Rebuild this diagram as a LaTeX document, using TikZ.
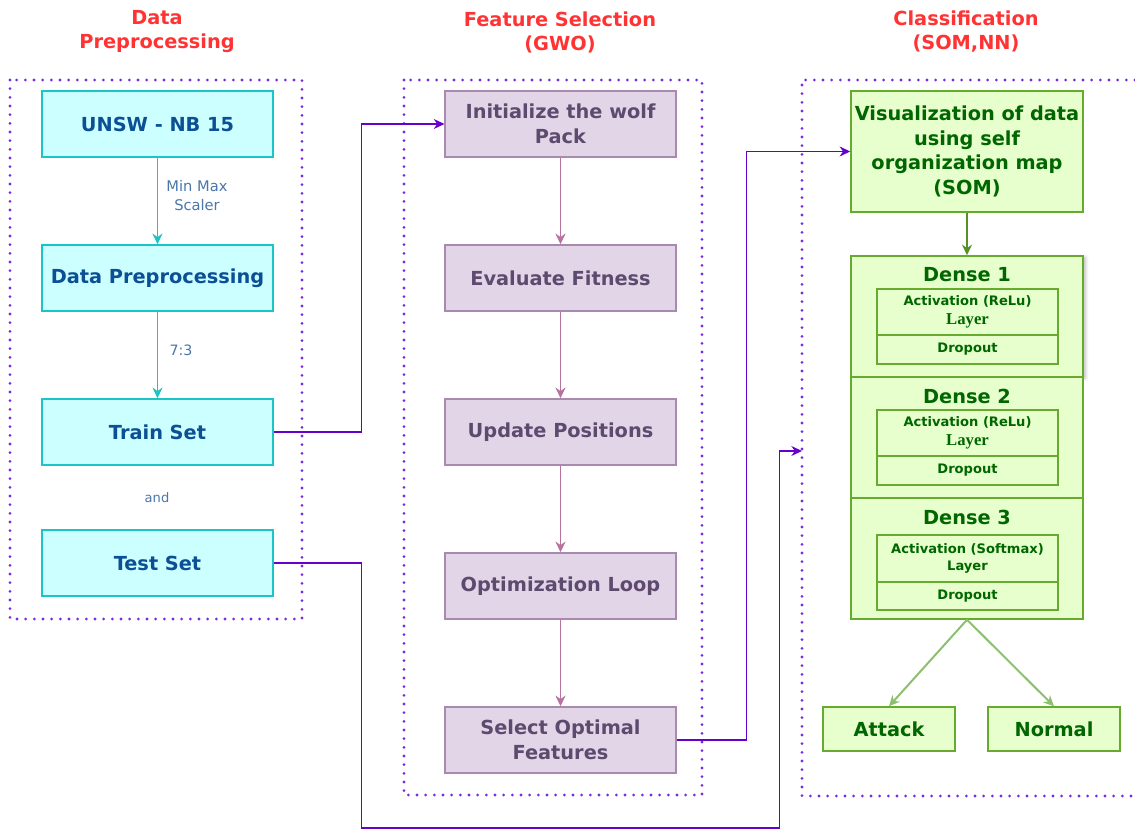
\documentclass[tikz,border=0pt]{standalone}
\usepackage{fontspec}
\setmainfont{DejaVu Sans}
\newfontfamily\layerfont{Liberation Serif}
\usepackage{tikz}
\usetikzlibrary{arrows.meta}
\usetikzlibrary{shadows.blur}
\definecolor{titlered}{HTML}{FF3333}
\definecolor{framecol}{HTML}{7A2BE0}
\definecolor{linkcol}{HTML}{6600CC}
\definecolor{datafill}{HTML}{CCFFFF}
\definecolor{datadraw}{HTML}{1CC5C5}
\definecolor{datatext}{HTML}{0B4F94}
\definecolor{notetext}{HTML}{4A76A8}
\definecolor{gwofill}{HTML}{E1D5E7}
\definecolor{gwodraw}{HTML}{A98AAE}
\definecolor{gwotext}{HTML}{5E4A6E}
\definecolor{gwoarr}{HTML}{B5739D}
\definecolor{nnfill}{HTML}{E6FFCC}
\definecolor{nndraw}{HTML}{66AA2E}
\definecolor{nntext}{HTML}{006600}
\definecolor{nnarr}{HTML}{8CC06E}
\tikzset{frame/.style={draw=framecol, line width=2.3pt, dash pattern=on 0pt off 6.5pt, line cap=round}}
\tikzset{title/.style={text=titlered, align=center, font=\fontsize{14.5}{18}\selectfont\bfseries}}
\tikzset{databox/.style={draw=datadraw, fill=datafill, line width=1.1pt, minimum width=173pt, minimum height=49.5pt, inner sep=0pt, text=datatext, align=center, font=\fontsize{14.5}{18.5}\selectfont\bfseries}}
\tikzset{gwobox/.style={databox, draw=gwodraw, fill=gwofill, text=gwotext}}
\tikzset{nnbox/.style={databox, draw=nndraw, fill=nnfill, text=nntext, minimum width=174pt}}
\tikzset{layerbox/.style={nnbox, minimum width=135.75pt, font=\fontsize{9.8}{14}\selectfont\bfseries}}
\tikzset{note/.style={text=notetext, align=center, inner sep=0pt}}
\tikzset{tip/.style={-{Stealth[length=8pt,width=7.5pt]}}}
\tikzset{link/.style={draw=linkcol, line width=1pt, tip}}

\begin{document}
\begin{tikzpicture}[x=0.75pt, y=-0.75pt]

\useasboundingbox (0,0) rectangle (1135,830);

% titles
\node [title] (t1) at (157,32) {Data\\Preprocessing};
\node [title] (t2) at (560,32) {Feature Selection\\(GWO)};
\node [title] (t3) at (966,32) {Classification\\(SOM,NN)};

% dotted frames
\draw [frame] (10,80) rectangle (302,619);
\draw [frame] (404,80) rectangle (702,795);
\draw [frame] (1135,80) -- (802,80) -- (802,796) -- (1135,796);

% data preprocessing
\node [databox] (unsw) at (157.5,124) {UNSW - NB 15};
\node [databox] (prep) at (157.5,278) {Data Preprocessing};
\node [databox] (train) at (157.5,432) {Train Set};
\node [databox] (test) at (157.5,563) {Test Set};

\draw [datadraw, line width=1.2pt, tip] (unsw) -- (prep);
\draw [datadraw, line width=1.2pt, tip] (prep) -- (train);

\node [note, font=\fontsize{11}{14.25}\selectfont] (mm) at (197,196) {Min Max\\Scaler};
\node [note, font=\fontsize{10.7}{13}\selectfont] (split) at (181,350) {7:3};
\node [note, font=\fontsize{9.8}{12}\selectfont] (and) at (157,498) {and};

% grey wolf optimizer
\node [gwobox] (init) at (560.5,124) {Initialize the wolf\\Pack};
\node [gwobox] (eval) at (560.5,278) {Evaluate Fitness};
\node [gwobox] (upd) at (560.5,432) {Update Positions};
\node [gwobox] (opt) at (560.5,586) {Optimization Loop};
\node [gwobox] (sel) at (560.5,740) {Select Optimal\\Features};

\foreach \a/\b in {init/eval,eval/upd,upd/opt,opt/sel} {\draw [gwoarr, line width=1.2pt, tip] (\a) -- (\b);}

% classification
\node [nnbox, minimum height=90.75pt] (som) at (967,151.5) {Visualization of data\\using self\\organization map\\(SOM)};

\node [nnbox, minimum height=90.75pt, blur shadow={shadow xshift=2pt, shadow yshift=-1pt, shadow blur steps=4, shadow opacity=25}] (dense1) at (967,316.5) {};
\node [nnbox, minimum height=90.75pt] (dense2) at (967,437.5) {};
\node [nnbox, minimum height=90.75pt] (dense3) at (967,558.5) {};

\node [text=nntext, font=\fontsize{14.5}{18}\selectfont\bfseries] (d1t) at (967,275) {Dense 1};
\node [text=nntext, font=\fontsize{14.5}{18}\selectfont\bfseries] (d2t) at (967,396) {Dense 2};
\node [text=nntext, font=\fontsize{14.5}{18}\selectfont\bfseries] (d3t) at (967,517) {Dense 3};

\node [layerbox, minimum height=34.5pt] (act1) at (967.5,312) {Activation (ReLu)\\{\layerfont\fontsize{12.5}{14}\selectfont Layer}};
\node [layerbox, minimum height=21.75pt] (drop1) at (967.5,349.5) {Dropout};
\node [layerbox, minimum height=34.5pt] (act2) at (967.5,433) {Activation (ReLu)\\{\layerfont\fontsize{12.5}{14}\selectfont Layer}};
\node [layerbox, minimum height=21.75pt] (drop2) at (967.5,470.5) {Dropout};
\node [layerbox, minimum height=35.25pt, font=\fontsize{9.8}{12.75}\selectfont\bfseries] (act3) at (967.5,558.5) {Activation (Softmax)\\Layer};
\node [layerbox, minimum height=21pt] (drop3) at (967.5,596) {Dropout};

\node [nnbox, minimum width=99pt, minimum height=33pt] (attack) at (889,729) {Attack};
\node [nnbox, minimum width=99pt, minimum height=33pt] (normal) at (1054,729) {Normal};

\draw [draw=nndraw!85!black, line width=1.2pt, tip] (som) -- (dense1);
\draw [nnarr, line width=1.5pt, tip] (dense3.south) -- (attack.north);
\draw [nnarr, line width=1.5pt, tip] (dense3.south) -- (normal.north);

% links between stages
\coordinate (clsin) at (802,451);
\draw [link] (train.east) -- ++(88,0) |- (init.west);
\draw [link] (sel.east) -- ++(70,0) |- (som.west);
\draw [link] (test.east) -- ++(88,0) |- ++(418,265) |- (clsin);

\end{tikzpicture}
\end{document}
